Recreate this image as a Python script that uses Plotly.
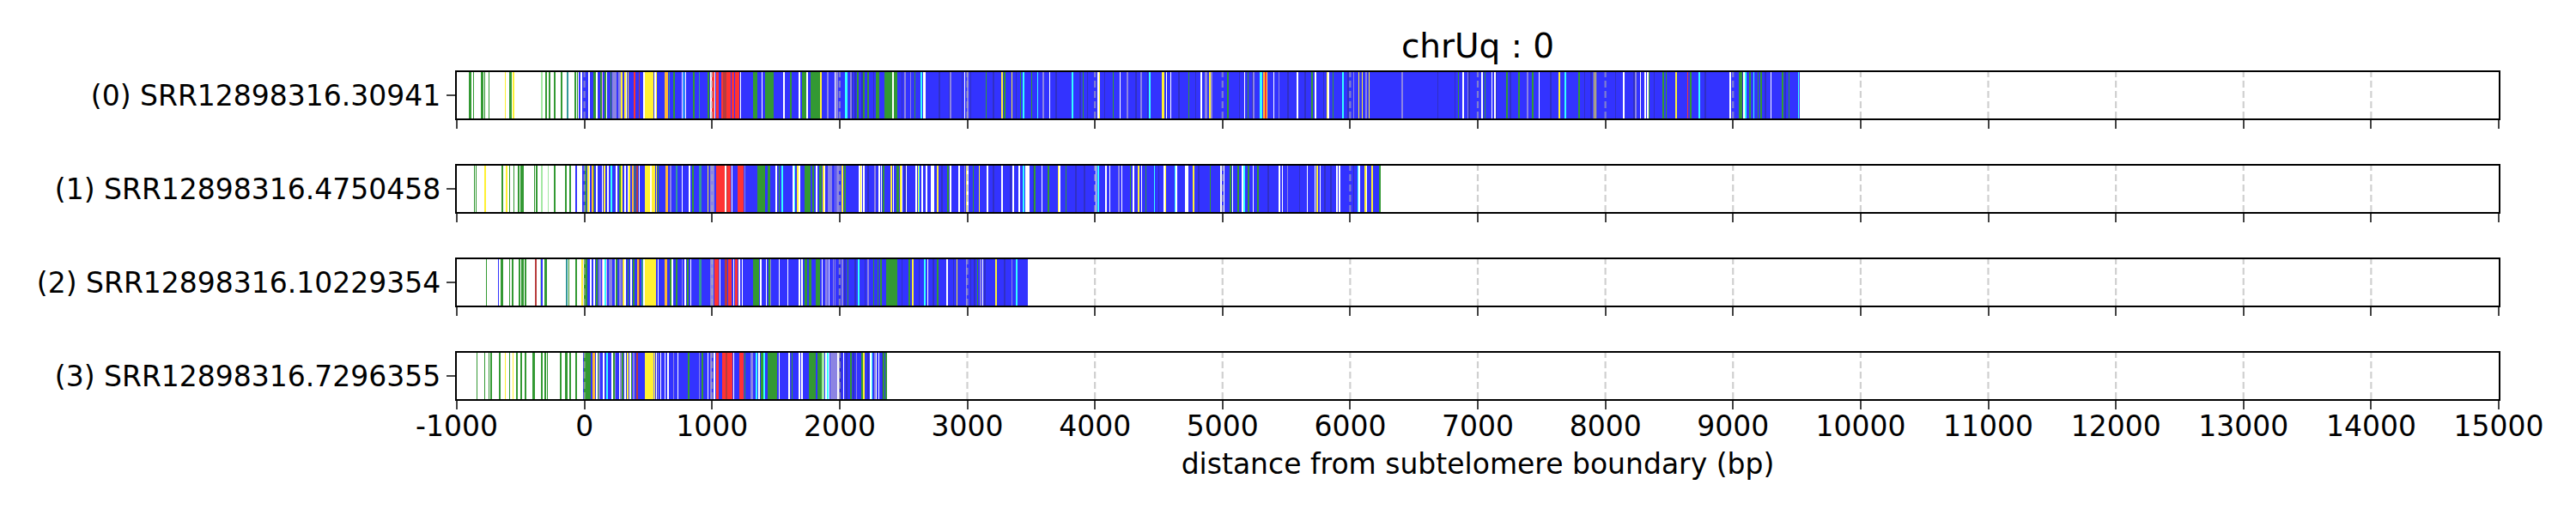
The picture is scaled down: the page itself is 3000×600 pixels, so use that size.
import plotly.graph_objects as go
from plotly.subplots import make_subplots

# reads shown in the panel, top to bottom
READS = [
  "(0) SRR12898316.30941",
  "(1) SRR12898316.4750458",
  "(2) SRR12898316.10229354",
  "(3) SRR12898316.7296355",
]

# span of the canonical (blue) repeat track of each read, in bp
BLUE_SPANS = [(-18, 9520), (-18, 6240), (20, 3471), (-10, 2371)]

# runs of non canonical repeats: (start, end, kind)
BLOCKS_0 = [
  (31, 45, "W"), (72, 94, "G"), (218, 250, "L"), (262, 285, "L"), (384, 400, "R"),
  (474, 541, "Y"), (630, 653, "O"), (1033, 1050, "R"), (1089, 1110, "DR"), (1110, 1144, "R"),
  (1155, 1171, "R"), (1178, 1216, "R"), (1323, 1357, "G"), (1413, 1446, "G"), (1450, 1480, "G"),
  (1703, 1737, "G"), (1770, 1848, "G"), (1904, 1915, "L"), (1980, 1990, "L"), (2040, 2058, "C"),
  (2286, 2313, "G"), (2353, 2414, "G"), (2420, 2454, "G"), (4354, 4370, "L"), (4857, 4879, "L"),
  (4908, 4920, "L"), (5292, 5310, "C"), (8235, 8246, "L"), (9046, 9055, "G"), (9080, 9089, "W"),
]
BLOCKS_1 = [
  (-521, -510, "G"), (-148, -139, "G"), (0, 16, "G"), (206, 217, "C"), (273, 284, "G"),
  (373, 384, "O"), (474, 552, "Y"), (641, 653, "O"), (720, 731, "T"), (894, 916, "T"),
  (988, 1021, "L"), (1033, 1100, "R"), (1111, 1122, "DR"), (1122, 1144, "R"), (1200, 1245, "R"),
  (1357, 1413, "G"), (1435, 1457, "G"), (1725, 1770, "G"), (1837, 1860, "G"), (1904, 1938, "L"),
  (1971, 1994, "L"), (2152, 2174, "W"), (2398, 2414, "Y"), (2443, 2465, "G"), (2711, 2744, "W"),
  (3270, 3281, "W"), (3453, 3489, "W"), (4986, 4997, "W"), (5165, 5176, "C"), (5891, 5903, "W"),
  (6227, 6240, "G"),
]
BLOCKS_2 = [
  (-7, 20, "G"), (72, 83, "W"), (116, 127, "L"), (194, 217, "L"), (273, 295, "L"),
  (384, 395, "G"), (474, 563, "Y"), (630, 648, "O"), (720, 731, "G"), (898, 916, "T"),
  (988, 1010, "L"), (1021, 1055, "R"), (1100, 1122, "DR"), (1126, 1155, "R"), (1178, 1200, "R"),
  (1323, 1368, "G"), (1725, 1748, "G"), (1759, 1781, "G"), (1815, 1848, "G"), (1893, 1904, "L"),
  (2219, 2230, "L"), (2364, 2454, "G"), (2566, 2577, "Y"), (3381, 3393, "C"),
]
BLOCKS_3 = [
  (-666, -655, "G"), (-532, -521, "G"), (-409, -387, "G"), (-152, -134, "G"), (-7, 49, "G"),
  (60, 83, "O"), (172, 183, "C"), (407, 418, "DR"), (474, 552, "Y"), (1033, 1055, "R"),
  (1077, 1111, "R"), (1111, 1122, "DR"), (1122, 1162, "R"), (1211, 1245, "R"), (1301, 1323, "L"),
  (1345, 1357, "C"), (1379, 1401, "G"), (1435, 1513, "G"), (1759, 1815, "G"), (1826, 1860, "G"),
  (1860, 1882, "LG"), (1927, 1994, "L"), (2170, 2179, "G"),
]

# single repeat units: (start, kind)
STRIPES_0 = [
  (-901, "G"), (-894, "G"), (-872, "G"), (-805, "G"), (-796, "G"), (-784, "G"), (-751, "G"),
  (-621, "Y"), (-588, "G"), (-577, "G"), (-561, "Y"), (-557, "Y"), (-337, "LG"), (-302, "G"),
  (-275, "G"), (-235, "G"), (-181, "G"), (-134, "T"), (-72, "G"), (-58, "G"), (-40, "B"),
  (94, "W"), (128, "G"), (139, "P"), (161, "G"), (172, "W"), (206, "G"), (291, "Y"), (317, "Y"),
  (328, "W"), (340, "Y"), (429, "DR"), (463, "W"), (552, "W"), (563, "Y"), (664, "T"), (700, "G"),
  (764, "W"), (778, "C"), (790, "W"), (854, "G"), (898, "T"), (968, "G"), (988, "W"), (1000, "R"),
  (1010, "R"), (1020, "W"), (1077, "R"), (1222, "W"), (1390, "W"), (1560, "W"), (1614, "G"),
  (1681, "W"), (1742, "W"), (1849, "Y"), (1962, "W"), (1973, "L"), (2085, "L"), (2141, "G"),
  (2186, "G"), (2219, "G"), (2416, "W"), (2510, "L"), (2555, "L"), (2588, "G"), (2637, "C"),
  (2655, "W"), (2666, "W"), (2867, "L"), (2979, "W"), (3002, "L"), (3147, "G"), (3270, "Y"),
  (3292, "G"), (3348, "Y"), (3415, "G"), (3437, "C"), (3504, "G"), (3549, "C"), (3594, "L"),
  (3643, "W"), (3824, "C"), (3907, "G"), (4025, "W"), (4030, "Y"), (4141, "G"), (4197, "W"),
  (4253, "L"), (4427, "C"), (4526, "Y"), (4535, "Y"), (4559, "W"), (4593, "W"), (4733, "G"),
  (4830, "W"), (4897, "Y"), (5042, "G"), (5172, "W"), (5199, "G"), (5243, "L"), (5321, "O"),
  (5337, "R"), (5344, "Y"), (5400, "W"), (5440, "L"), (5585, "W"), (5701, "G"), (5728, "W"),
  (5822, "Y"), (5827, "W"), (5865, "G"), (5943, "C"), (6026, "L"), (6066, "Y"), (6092, "Y"),
  (6122, "L"), (6148, "Y"), (6405, "L"), (6848, "G"), (6882, "W"), (6920, "L"), (7031, "W"),
  (7054, "G"), (7110, "W"), (7132, "W"), (7226, "G"), (7322, "G"), (7389, "L"), (7427, "G"),
  (7478, "W"), (7639, "Y"), (7686, "C"), (7791, "G"), (7910, "Y"), (7922, "Y"), (8141, "W"),
  (8273, "W"), (8309, "W"), (8331, "W"), (8340, "G"), (8452, "G"), (8474, "G"), (8552, "Y"),
  (8644, "R"), (8666, "G"), (8733, "C"), (8977, "W"), (9064, "G"), (9096, "C"), (9129, "G"),
  (9162, "C"), (9196, "G"), (9218, "G"), (9296, "W"), (9386, "G"), (9437, "G"), (9512, "C"),
  (2096, "DB"), (2119, "DB"), (2175, "DB"), (2264, "DB"), (2487, "DB"), (2778, "DB"), (2856, "DB"),
  (2957, "DB"), (3024, "DB"), (3203, "DB"), (3381, "DB"), (3694, "DB"), (3884, "DB"), (3940, "DB"),
  (4074, "DB"), (4320, "DB"), (4410, "DB"), (4655, "DB"), (4789, "DB"), (5132, "DB"), (5232, "DB"),
  (5511, "DB"), (5646, "DB"), (5791, "DB"), (5981, "DB"), (6685, "DB"), (6819, "DB"), (6931, "DB"),
  (7143, "DB"), (7255, "DB"), (7568, "DB"), (7836, "DB"), (7888, "DB"), (8078, "DB"), (8224, "DB"),
  (8380, "DB"), (8782, "DB"), (9073, "DB"), (9252, "DB"), (9408, "DB"),
]
STRIPES_1 = [
  (-863, "G"), (-850, "G"), (-778, "Y"), (-644, "G"), (-610, "Y"), (-588, "G"), (-554, "G"),
  (-499, "G"), (-483, "G"), (-393, "G"), (-375, "G"), (-335, "LG"), (-286, "LG"), (-235, "G"),
  (-114, "G"), (-67, "B"), (27, "Y"), (38, "W"), (60, "O"), (72, "G"), (94, "W"), (139, "W"),
  (156, "Y"), (183, "W"), (250, "W"), (290, "Y"), (317, "W"), (340, "W"), (351, "Y"), (395, "G"),
  (411, "DR"), (429, "W"), (519, "W"), (563, "Y"), (575, "G"), (675, "L"), (764, "W"), (820, "W"),
  (849, "G"), (966, "Y"), (1104, "W"), (1155, "W"), (1256, "L"), (1502, "W"), (1524, "G"),
  (1547, "C"), (1636, "W"), (1647, "C"), (1670, "Y"), (1681, "W"), (1792, "G"), (1819, "W"),
  (1870, "Y"), (1882, "W"), (1962, "L"), (2018, "Y"), (2040, "G"), (2163, "Y"), (2186, "W"),
  (2275, "L"), (2309, "W"), (2326, "W"), (2342, "G"), (2420, "W"), (2476, "Y"), (2487, "W"),
  (2521, "W"), (2599, "W"), (2617, "Y"), (2622, "C"), (2644, "W"), (2677, "W"), (2767, "Y"),
  (2845, "G"), (2867, "W"), (2934, "W"), (2979, "L"), (2990, "Y"), (3002, "W"), (3046, "G"),
  (3091, "Y"), (3158, "W"), (3359, "W"), (3404, "W"), (3437, "C"), (3527, "G"), (3583, "W"),
  (3632, "G"), (3712, "Y"), (3722, "W"), (3773, "G"), (4007, "W"), (4025, "C"), (4085, "W"),
  (4114, "W"), (4186, "L"), (4208, "W"), (4275, "G"), (4298, "W"), (4342, "Y"), (4365, "W"),
  (4398, "G"), (4465, "C"), (4544, "W"), (4549, "Y"), (4629, "C"), (4637, "W"), (4711, "W"),
  (4722, "W"), (4772, "Y"), (4901, "G"), (5009, "W"), (5061, "G"), (5076, "W"), (5120, "G"),
  (5154, "W"), (5203, "G"), (5239, "W"), (5277, "G"), (5444, "W"), (5467, "W"), (5507, "L"),
  (5663, "W"), (5724, "W"), (5739, "Y"), (5764, "W"), (5914, "W"), (6063, "C"), (6070, "W"),
  (6115, "Y"), (6126, "W"), (6171, "Y"),
  (2219, "DB"), (2510, "DB"), (2800, "DB"), (3203, "DB"), (3337, "DB"), (3516, "DB"), (3851, "DB"),
  (3918, "DB"), (4499, "DB"), (4812, "DB"), (5355, "DB"), (5601, "DB"), (5802, "DB"), (5847, "DB"),
  (6026, "DB"),
]
STRIPES_2 = [
  (-771, "G"), (-677, "B"), (-655, "G"), (-644, "G"), (-588, "G"), (-565, "G"), (-510, "G"),
  (-492, "G"), (-483, "G"), (-465, "G"), (-382, "DR"), (-346, "LG"), (-337, "B"), (-308, "G"),
  (-299, "G"), (-141, "T"), (-123, "G"), (-67, "G"), (-18, "Y"), (49, "W"), (94, "G"), (139, "P"),
  (150, "W"), (161, "C"), (172, "P"), (239, "W"), (250, "G"), (302, "Y"), (317, "W"), (340, "G"),
  (362, "W"), (418, "O"), (429, "DR"), (451, "T"), (463, "W"), (575, "W"), (675, "G"), (686, "W"),
  (764, "L"), (787, "W"), (809, "G"), (831, "W"), (1060, "W"), (1167, "W"), (1211, "W"),
  (1234, "W"), (1379, "W"), (1424, "W"), (1446, "G"), (1457, "L"), (1524, "W"), (1591, "W"),
  (1681, "W"), (1703, "W"), (1860, "W"), (1915, "W"), (1949, "L"), (1962, "L"), (2018, "L"),
  (2063, "G"), (2148, "C"), (2264, "G"), (2297, "G"), (2320, "G"), (2543, "G"), (2666, "C"),
  (2689, "W"), (2767, "G"), (2841, "W"), (2917, "Y"), (2990, "L"), (3080, "G"), (3102, "L"),
  (3118, "W"), (3225, "Y"), (3348, "L"),
  (1996, "DB"), (2040, "DB"), (2119, "DB"), (2197, "DB"), (2487, "DB"), (2622, "DB"), (2733, "DB"),
  (2890, "DB"), (3024, "DB"), (3057, "DB"), (3136, "DB"), (3292, "DB"),
]
STRIPES_3 = [
  (-845, "G"), (-784, "G"), (-751, "G"), (-733, "G"), (-621, "Y"), (-588, "G"), (-561, "Y"),
  (-498, "G"), (-465, "G"), (-337, "G"), (-308, "G"), (-291, "G"), (-186, "G"), (-112, "G"),
  (-67, "G"), (94, "W"), (105, "G"), (116, "L"), (150, "W"), (217, "W"), (228, "G"), (239, "L"),
  (273, "W"), (284, "L"), (295, "G"), (317, "W"), (335, "Y"), (358, "W"), (362, "G"), (384, "L"),
  (541, "L"), (563, "W"), (575, "L"), (597, "W"), (630, "W"), (653, "W"), (697, "L"), (731, "W"),
  (813, "G"), (898, "L"), (921, "G"), (966, "W"), (988, "L"), (1017, "W"), (1167, "W"),
  (1256, "G"), (1368, "W"), (1405, "C"), (1524, "W"), (1602, "W"), (1625, "G"), (1681, "W"),
  (1703, "W"), (1893, "W"), (1904, "C"), (1915, "W"), (1985, "W"), (1996, "L"), (2029, "W"),
  (2085, "G"), (2130, "L"), (2186, "Y"), (2241, "W"), (2248, "C"), (2275, "L"), (2286, "W"),
  (2304, "W"), (2342, "G"), (2364, "G"),
  (2007, "DB"), (2052, "DB"), (2107, "DB"), (2219, "DB"), (2331, "DB"),
]

BLOCKS = [BLOCKS_0, BLOCKS_1, BLOCKS_2, BLOCKS_3]
STRIPES = [STRIPES_0, STRIPES_1, STRIPES_2, STRIPES_3]

XTICKS = list(range(-1000, 15001, 1000))
UNIT = 4  # drawn width of a single repeat unit, bp

COLORS = {
  "B": "#3333ff", "DB": "#3030c4", "G": "#339933", "LG": "#a3e8a3", "Y": "#fff033",
  "O": "#ffb733", "R": "#ff3333", "DR": "#b83c3c", "C": "#33ffff", "L": "#8c84e2",
  "P": "#eba2eb", "T": "#339999", "W": "#ffffff",
}

FONT = "DejaVu Sans"

fig = make_subplots(rows=4, cols=1, shared_xaxes=True, vertical_spacing=0.1444)

for i, name in enumerate(READS):
  row = i + 1
  # canonical repeat track first, everything else goes on top
  s, e = BLUE_SPANS[i]
  fig.add_trace(go.Bar(y=[name], x=[e - s], base=[s], orientation="h",
                       marker=dict(color=COLORS["B"], line_width=0), width=1,
                       showlegend=False, hoverinfo="skip"), row=row, col=1)

  for kind in COLORS:
    segs = [b for b in BLOCKS[i] if b[2] == kind]
    if segs:
      fig.add_trace(go.Bar(y=[name] * len(segs), x=[b[1] - b[0] for b in segs],
                           base=[b[0] for b in segs], orientation="h",
                           marker=dict(color=COLORS[kind], line_width=0), width=1,
                           showlegend=False, hoverinfo="skip"), row=row, col=1)

  for kind in COLORS:
    pos = [p for p, k in STRIPES[i] if k == kind]
    if pos:
      fig.add_trace(go.Bar(y=[name] * len(pos), x=[UNIT] * len(pos), base=pos,
                           orientation="h",
                           marker=dict(color=COLORS[kind], line_width=0), width=1,
                           showlegend=False, hoverinfo="skip"), row=row, col=1)

  fig.update_yaxes(type="category", range=[-0.5, 0.5], ticks="outside", ticklen=10,
                   tickwidth=2.2, showline=True, mirror=True, linecolor="black",
                   linewidth=2.2, showgrid=False, row=row, col=1)
  fig.update_xaxes(range=[XTICKS[0], XTICKS[-1]], tickvals=XTICKS,
                   ticktext=[str(t) for t in XTICKS], ticks="outside", ticklen=10,
                   tickwidth=2.2, showline=True, mirror=True, linecolor="black",
                   linewidth=2.2, showgrid=False, zeroline=False,
                   showticklabels=(row == 4), ticklabelstandoff=-9, row=row, col=1)

  # dashed grid drawn over the tracks like in the original
  xref = "x" if row == 1 else "x%d" % row
  yref = "y domain" if row == 1 else "y%d domain" % row
  for t in XTICKS[1:-1]:
    fig.add_shape(type="line", xref=xref, yref=yref, x0=t, x1=t, y0=0, y1=1,
                  line=dict(color="rgba(176,176,176,0.6)", width=2.2, dash="8px,4px"),
                  layer="above")

fig.update_xaxes(title=dict(text="distance from subtelomere boundary (bp)",
                            font=dict(size=33, family=FONT, color="black"), standoff=14),
                 row=4, col=1)

# the page body adds 8px around the figure, so the figure is 8px smaller
fig.update_layout(
  title=dict(text="chrUq : 0", xref="paper", x=0.5, xanchor="center", y=1 - 45 / 592,
             yanchor="middle", font=dict(size=39, family=FONT, color="black")),
  barmode="overlay",
  bargap=0,
  width=2992,
  height=592,
  margin=dict(l=524, r=90, t=76, b=135),
  font=dict(family=FONT, size=33, color="black"),
  plot_bgcolor="white",
  paper_bgcolor="white",
)

fig.write_html("out.html")
